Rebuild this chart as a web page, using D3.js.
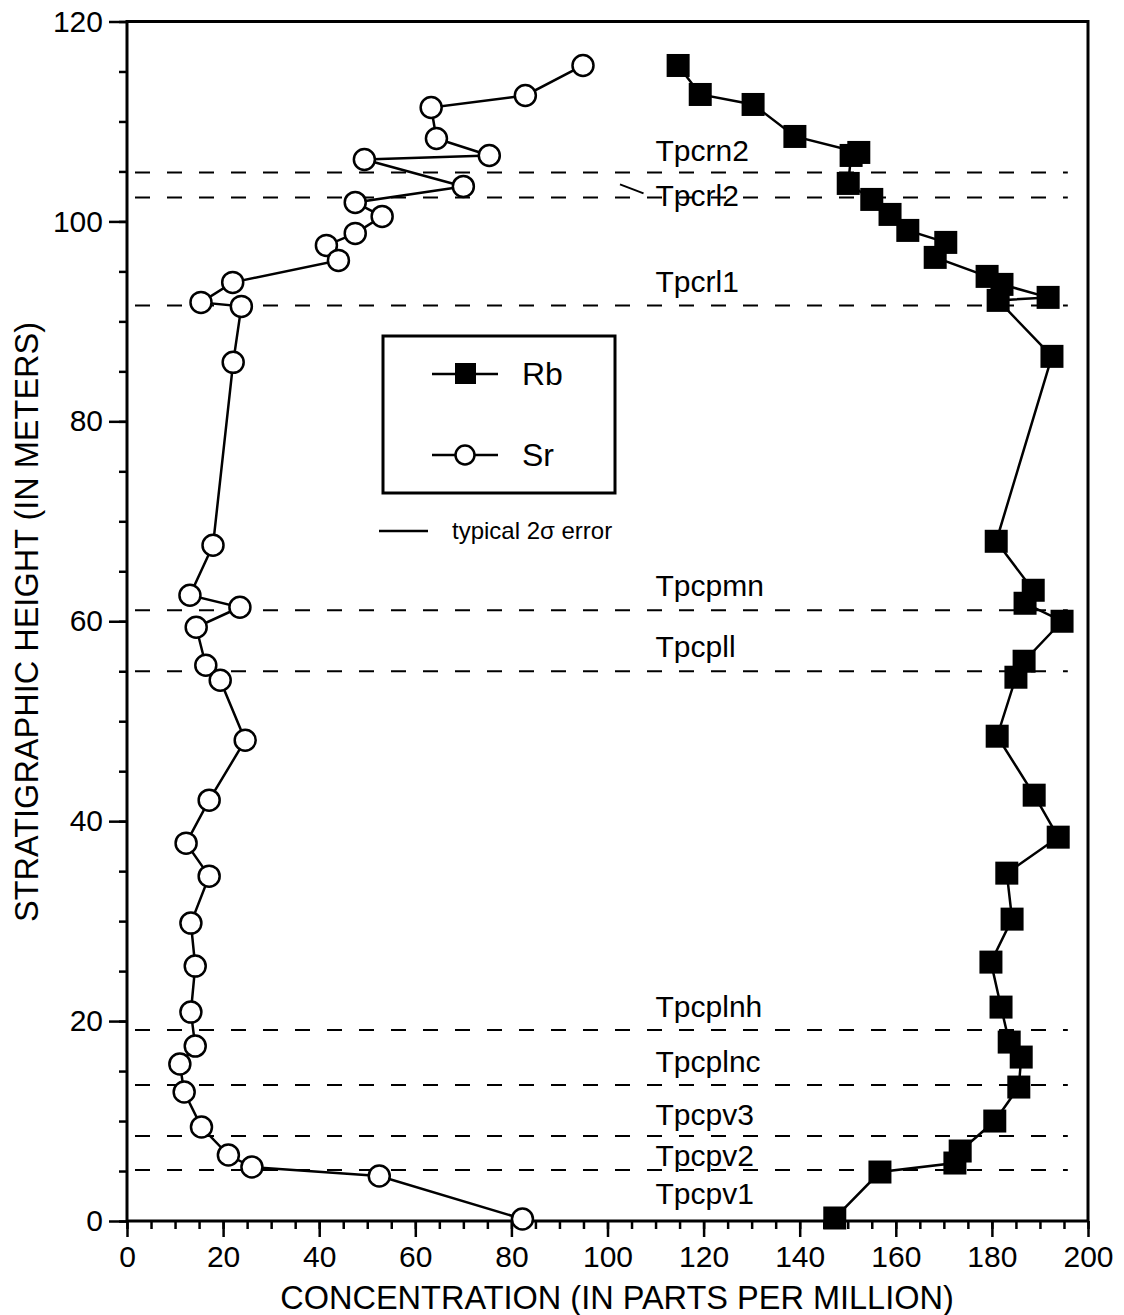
<!DOCTYPE html>
<html><head><meta charset="utf-8">
<script src="https://cdn.jsdelivr.net/npm/d3@7"></script>
<style>body{margin:0;background:#fff}svg{display:block}text{font-family:"Liberation Sans",Arial,Helvetica,sans-serif;fill:#000}</style>
</head><body>
<svg id="c" width="1124" height="1315"></svg>
<script>
// ---- data ----
const xTicks = [0,20,40,60,80,100,120,140,160,180,200];
const yTicks = [0,20,40,60,80,100,120];
// Sr: [concentration ppm, height m]
const srData = [[94.9,115.6],[82.9,112.6],[63.3,111.4],[64.4,108.3],[75.4,106.6],[49.4,106.2],[70.0,103.5],[47.5,101.9],[53.1,100.5],[47.5,98.8],[41.5,97.6],[44.0,96.1],[22.0,93.9],[15.4,91.9],[23.8,91.5],[22.1,85.9],[17.9,67.6],[13.1,62.6],[23.5,61.4],[14.4,59.4],[16.4,55.6],[19.4,54.1],[24.6,48.1],[17.1,42.1],[12.3,37.8],[17.1,34.5],[13.3,29.8],[14.2,25.5],[13.3,20.9],[14.2,17.5],[11.0,15.7],[11.9,12.9],[15.5,9.4],[21.1,6.6],[26.0,5.4],[52.5,4.5],[82.3,0.2]];
// Rb: [concentration ppm, height m]
const rbData = [[114.7,115.6],[119.3,112.7],[130.3,111.7],[139.0,108.5],[152.3,106.9],[150.7,106.6],[150.1,103.8],[155.0,102.2],[158.8,100.7],[162.5,99.1],[170.4,97.9],[168.2,96.4],[179.0,94.5],[182.1,93.7],[191.7,92.4],[181.3,92.1],[192.5,86.5],[180.9,68.0],[188.6,63.1],[186.9,61.8],[194.6,60.0],[186.7,56.0],[185.0,54.4],[181.1,48.5],[188.8,42.6],[193.8,38.4],[183.1,34.8],[184.2,30.2],[179.8,25.9],[181.9,21.4],[183.6,17.9],[186.1,16.4],[185.6,13.4],[180.6,10.0],[173.4,7.0],[172.3,5.8],[156.7,4.9],[147.3,0.3]];
// formation contacts
const contactNames = ["Tpcrn2","Tpcrl2","Tpcrl1","Tpcpmn","Tpcpll","Tpcplnh","Tpcplnc","Tpcpv3","Tpcpv2","Tpcpv1"];
const contactHeights = [104.9,102.4,91.6,61.1,55.0,19.1,13.6,8.5,5.1,null];
const labelHeights = [106.0,101.5,92.9,62.5,56.4,20.4,14.9,9.6,5.5,1.7];

// ---- chart ----
const svg = d3.select("#c");
const x = d3.scaleLinear().domain([0,200]).range([127,1088]);
const y = d3.scaleLinear().domain([0,120]).range([1221,21.5]);

// dashed contacts
svg.append("g").selectAll("line").data(contactHeights.filter(h=>h!==null)).join("line")
  .attr("x1",x(0)).attr("x2",x(195.8)).attr("y1",d=>y(d)).attr("y2",d=>y(d))
  .attr("stroke","#000").attr("stroke-width",2).attr("stroke-dasharray","15,17").attr("stroke-dashoffset",-8);

// contact labels
svg.append("g").selectAll("text").data(contactNames).join("text")
  .attr("x",x(110)).attr("y",(d,i)=>y(labelHeights[i]))
  .attr("font-size",30).text(d=>d);
// leader for Tpcrl2
svg.append("line").attr("x1",x(102.6)).attr("y1",y(103.7)).attr("x2",x(107.5)).attr("y2",y(102.8))
  .attr("stroke","#000").attr("stroke-width",2);

// axes
const gx = svg.append("g").attr("transform",`translate(0,${y(0)})`);
gx.call(d3.axisBottom(x).tickValues(d3.range(0,201,5)).tickSize(8).tickFormat(""));
gx.call(g=>g.selectAll(".domain").remove());
const gx2 = svg.append("g").attr("transform",`translate(0,${y(0)})`)
  .call(d3.axisBottom(x).tickValues(xTicks).tickSize(16).tickPadding(9).tickFormat(d3.format("d")));
gx2.select(".domain").remove();
gx2.selectAll("text").attr("font-size",30).attr("font-family",'"Liberation Sans",Arial,sans-serif').attr("fill","#000");

const gy = svg.append("g").attr("transform",`translate(${x(0)},0)`);
gy.call(d3.axisLeft(y).tickValues(d3.range(0,121,5)).tickSize(8).tickFormat(""));
gy.select(".domain").remove();
const gy2 = svg.append("g").attr("transform",`translate(${x(0)},0)`)
  .call(d3.axisLeft(y).tickValues(yTicks).tickSize(18).tickPadding(6).tickFormat(d3.format("d")));
gy2.select(".domain").remove();
gy2.selectAll("text").attr("font-size",30).attr("font-family",'"Liberation Sans",Arial,sans-serif').attr("fill","#000");
svg.selectAll(".tick line").attr("stroke","#000").attr("stroke-width",2.5);

// frame
svg.append("rect").attr("x",x(0)).attr("y",y(120)).attr("width",x(200)-x(0)).attr("height",y(0)-y(120))
  .attr("fill","none").attr("stroke","#000").attr("stroke-width",3);

// series lines
const line = d3.line().x(d=>x(d[0])).y(d=>y(d[1]));
svg.append("path").datum(srData).attr("d",line).attr("fill","none").attr("stroke","#000").attr("stroke-width",2.5);
svg.append("path").datum(rbData).attr("d",line).attr("fill","none").attr("stroke","#000").attr("stroke-width",2.5);

// markers
svg.append("g").selectAll("circle").data(srData).join("circle")
  .attr("cx",d=>x(d[0])).attr("cy",d=>y(d[1])).attr("r",10.5)
  .attr("fill","#fff").attr("stroke","#000").attr("stroke-width",2.5);
svg.append("g").selectAll("rect").data(rbData).join("rect")
  .attr("x",d=>x(d[0])-11.5).attr("y",d=>y(d[1])-11.5).attr("width",23).attr("height",23)
  .attr("fill","#000");

// legend
const lg = svg.append("g");
lg.append("rect").attr("x",383).attr("y",336).attr("width",232).attr("height",157)
  .attr("fill","#fff").attr("stroke","#000").attr("stroke-width",3);
lg.append("line").attr("x1",432).attr("x2",498).attr("y1",374).attr("y2",374).attr("stroke","#000").attr("stroke-width",2.5);
lg.append("rect").attr("x",455).attr("y",363).attr("width",21).attr("height",21).attr("fill","#000");
lg.append("text").attr("x",522).attr("y",385).attr("font-size",32).text("Rb");
lg.append("line").attr("x1",432).attr("x2",498).attr("y1",455).attr("y2",455).attr("stroke","#000").attr("stroke-width",2.5);
lg.append("circle").attr("cx",465).attr("cy",455).attr("r",9.5).attr("fill","#fff").attr("stroke","#000").attr("stroke-width",2.5);
lg.append("text").attr("x",522).attr("y",466).attr("font-size",32).text("Sr");
lg.append("line").attr("x1",379).attr("x2",428).attr("y1",531).attr("y2",531).attr("stroke","#000").attr("stroke-width",2.5);
lg.append("text").attr("x",452).attr("y",539).attr("font-size",24).text("typical 2σ error");

// axis titles
svg.append("text").attr("x",617).attr("y",1309).attr("text-anchor","middle").attr("font-size",32.5)
  .text("CONCENTRATION (IN PARTS PER MILLION)");
svg.append("text").attr("transform","translate(38,622) rotate(-90)").attr("text-anchor","middle").attr("font-size",32.5)
  .text("STRATIGRAPHIC HEIGHT (IN METERS)");
</script>
</body></html>
